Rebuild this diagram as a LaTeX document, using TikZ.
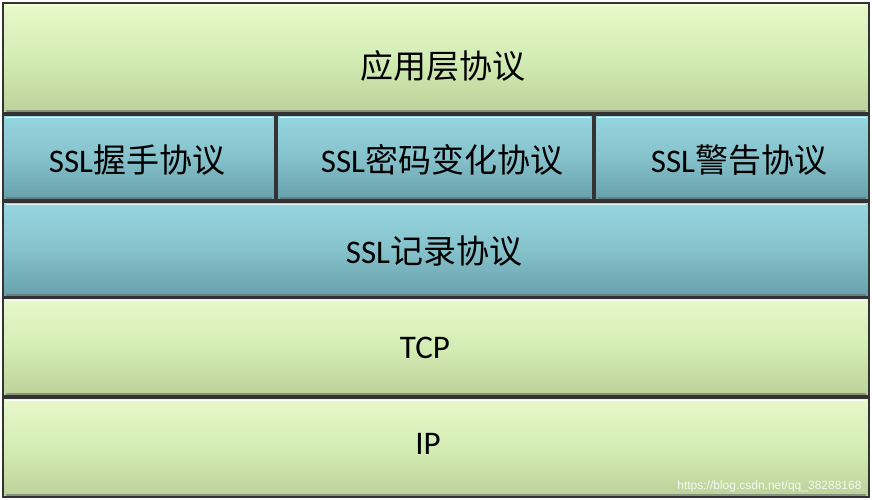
\documentclass[tikz,border=0pt]{standalone}
\usepackage{fontspec}
\usepackage{tikz}
\setmainfont{Carlito}
\newfontfamily\cjk{Noto Sans CJK SC}
\newfontfamily\wmfont{Liberation Sans}
\usetikzlibrary{shapes, positioning, backgrounds}
\definecolor{grtop}{HTML}{E8F8CA}
\definecolor{grmid}{HTML}{D3EDB5}
\definecolor{grbot}{HTML}{BBD199}
\definecolor{bltop}{HTML}{96D6E0}
\definecolor{blmid}{HTML}{86C2CC}
\definecolor{blbot}{HTML}{67A0AA}
\tikzstyle{layer}=[rectangle,anchor=north west,inner sep=0pt,outer sep=0pt,draw=black!80,line width=1.3pt,
  path picture={\draw[white,line width=1.5pt,opacity=0.8] ([xshift=3pt,yshift=-2.5pt]path picture bounding box.north west) -- ([xshift=-3pt,yshift=-2.5pt]path picture bounding box.north east);
  \draw[black!60,line width=1.5pt,opacity=0.6] ([xshift=3pt,yshift=2pt]path picture bounding box.south west) -- ([xshift=-3pt,yshift=2pt]path picture bounding box.south east);}]
\tikzstyle{greenlayer}=[layer,top color=grtop,bottom color=grbot,middle color=grmid]
\tikzstyle{bluelayer}=[layer,top color=bltop,bottom color=blbot,middle color=blmid]
\tikzstyle{label}=[font=\fontsize{33}{37}\selectfont,text=black]

\begin{document}
\begin{tikzpicture}[x=1pt,y=-1pt]
\useasboundingbox[fill=white] (0,0) rectangle (872,500);
%\draw[step=50pt,gray,very thin] (0,0) grid (872,500);
\node[greenlayer,minimum width=866pt,minimum height=110pt] (app) at (3,3){};
\node[bluelayer,minimum width=272pt,minimum height=85pt] (hs) at (3,115){};
\node[bluelayer,minimum width=316pt,minimum height=85pt] (cc) at (277,115){};
\node[bluelayer,minimum width=274pt,minimum height=85pt] (al) at (595,115){};
\node[bluelayer,minimum width=866pt,minimum height=95pt] (rec) at (3,202){};
\node[greenlayer,minimum width=866pt,minimum height=98pt] (tcp) at (3,298){};
\node[greenlayer,minimum width=866pt,minimum height=99pt] (ip) at (3,398){};

\node[label] (appt) at (443,66){\cjk 应用层协议};
\node[label] (hst) at (137,160){SSL{\cjk 握手协议}};
\node[label] (cct) at (442,160){SSL{\cjk 密码变化协议}};
\node[label] (alt) at (739,160){SSL{\cjk 警告协议}};
\node[label] (rect) at (434,251){SSL{\cjk 记录协议}};
\node[label] (tcpt) at (425,348){TCP};
\node[label] (ipt) at (428,444){IP};

\node[font=\wmfont\fontsize{12}{14}\selectfont,text=white,opacity=0.85,anchor=east] (wm) at (865,486){https://blog.csdn.net/qq\_38288168};
\end{tikzpicture}
\end{document}
